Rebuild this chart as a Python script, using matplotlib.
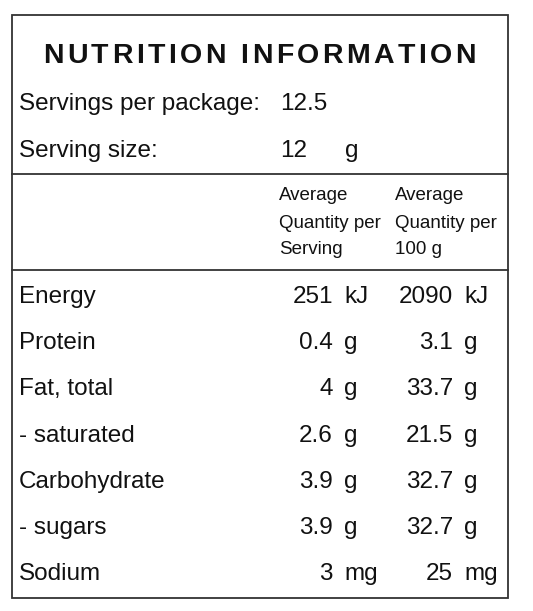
import matplotlib.pyplot as plt
from matplotlib.patches import Rectangle

# Nutrition panel values
title = "NUTRITION INFORMATION"
servings_per_package = "12.5"
serving_size = "12"
serving_unit = "g"
header_serving = ["Average", "Quantity per", "Serving"]
header_100g = ["Average", "Quantity per", "100 g"]
nutrients = ["Energy", "Protein", "Fat, total", "- saturated", "Carbohydrate", "- sugars", "Sodium"]
per_serving = ["251", "0.4", "4", "2.6", "3.9", "3.9", "3"]
per_100g = ["2090", "3.1", "33.7", "21.5", "32.7", "32.7", "25"]
units = ["kJ", "g", "g", "g", "g", "g", "mg"]

plt.rcParams['font.family'] = ['Liberation Sans', 'DejaVu Sans']

W, H = 533, 611
fig = plt.figure(figsize=(W / 100, H / 100), dpi=100)
ax = fig.add_axes([0, 0, 1, 1])
ax.set_xlim(0, W)
ax.set_ylim(H, 0)
ax.axis('off')

line_col = "#333333"
txt_col = "#111111"

# outer box and separators
ax.add_patch(Rectangle((12, 15), 496, 583, fill=False, edgecolor=line_col, linewidth=1.3))
ax.plot([12, 508], [174, 174], color=line_col, linewidth=1.3)
ax.plot([12, 508], [270, 270], color=line_col, linewidth=1.3)


def spaced_text(x0, x1, y, s, **kw):
    """Draw s letter by letter so that it fills x0..x1 (letter-spaced title)."""
    renderer = fig.canvas.get_renderer()
    inv = ax.transData.inverted()
    widths = []
    for ch in s:
        t = ax.text(0, 0, ch, **kw)
        bb = t.get_window_extent(renderer)
        p0 = inv.transform((bb.x0, bb.y0))
        p1 = inv.transform((bb.x1, bb.y0))
        widths.append(p1[0] - p0[0])
        t.remove()
    gap = (x1 - x0 - sum(widths)) / (len(s) - 1)
    x = x0
    for ch, w in zip(s, widths):
        ax.text(x, y, ch, ha='left', va='baseline', **kw)
        x += w + gap


spaced_text(43, 476, 63, title, fontsize=20.5, fontweight='bold', color=txt_col)

big = 17.5
ax.text(19, 110, "Servings per package:", ha='left', va='baseline', fontsize=big, color=txt_col)
ax.text(280, 110, servings_per_package, ha='left', va='baseline', fontsize=big, color=txt_col)
ax.text(19, 157, "Serving size:", ha='left', va='baseline', fontsize=big, color=txt_col)
ax.text(280, 157, serving_size, ha='left', va='baseline', fontsize=big, color=txt_col)
ax.text(345, 157, serving_unit, ha='left', va='baseline', fontsize=big, color=txt_col)

small = 13.5
for i, (a, b) in enumerate(zip(header_serving, header_100g)):
    y = 200.5 + i * 27
    ax.text(279, y, a, ha='left', va='baseline', fontsize=small, color=txt_col)
    ax.text(395, y, b, ha='left', va='baseline', fontsize=small, color=txt_col)

for i, name in enumerate(nutrients):
    y = 303 + i * 46.2
    ax.text(19, y, name, ha='left', va='baseline', fontsize=big, color=txt_col)
    ax.text(333, y, per_serving[i], ha='right', va='baseline', fontsize=big, color=txt_col)
    ax.text(344, y, units[i], ha='left', va='baseline', fontsize=big, color=txt_col)
    ax.text(453, y, per_100g[i], ha='right', va='baseline', fontsize=big, color=txt_col)
    ax.text(464, y, units[i], ha='left', va='baseline', fontsize=big, color=txt_col)

fig.savefig("out.png", dpi=100, facecolor='white')
